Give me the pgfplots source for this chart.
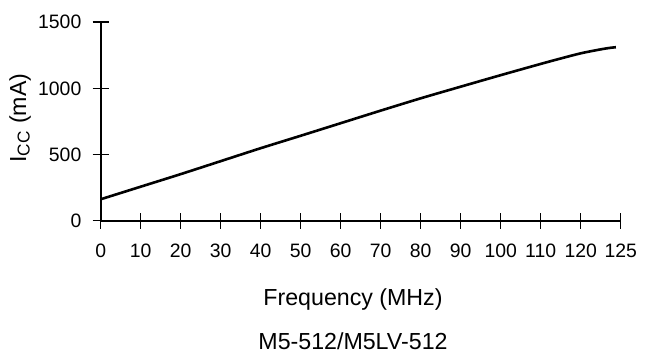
\documentclass[border=0pt]{standalone}
\usepackage{pgfplots}
\pgfplotsset{compat=1.18}
\usepackage{fontspec}
\setmainfont{Liberation Sans}
\newcommand{\fs}{\fontsize{9.7}{11.6}\selectfont}
\newcommand{\fl}{\fontsize{11.6}{13.9}\selectfont}
\begin{document}
\begin{tikzpicture}
\useasboundingbox (-50.35pt,-65.65pt) rectangle (274.65pt,110.35pt);
\begin{axis}[
  at={(0pt,0pt)}, anchor=origin,
  x=2pt, y=0.06614pt,
  scale only axis,
  xmin=0, xmax=130, ymin=0, ymax=1500,
  axis lines=left,
  axis line style={-, line width=1pt},
  tick style={line width=0.8pt, black},
  tick align=center,
  major tick length=8pt,
  xtick={0,10,20,30,40,50,60,70,80,90,100,110,120,130},
  xticklabels={0,10,20,30,40,50,60,70,80,90,100,110,120,125},
  ytick={0,500,1000,1500},
  /pgf/number format/assume math mode=true,
  /pgf/number format/1000 sep={},
  scaled y ticks=false,
  yticklabel style={font=\fs, anchor=east, inner sep=0pt},
  xticklabel style={font=\fs, anchor=north, inner sep=0pt},
  yticklabel shift=5.5pt,
  xticklabel shift=7.6pt,
  clip=false,
]
\addplot[black, line width=1.3pt, smooth, tension=0.5] coordinates {
(0,162) (10,257) (20,352) (30,450) (40,548) (50,642) (60,737) (70,832)
(80,925) (90,1013) (100,1100) (110,1185) (115,1226) (120,1265)
(125,1295) (127.5,1307) (128.8,1311)
};
\end{axis}
\node[anchor=base, font=\fl, inner sep=0pt] at (126.15pt,-42.65pt) {Frequency (MHz)};
\node[anchor=base, font=\fl, inner sep=0pt] at (126.15pt,-64.4pt) {M5-512/M5LV-512};
\node[rotate=90, font=\fl, inner sep=0pt] at (-40.35pt,51.35pt) {I\textsubscript{\fontsize{8.6}{10}\selectfont CC} (mA)};
\end{tikzpicture}
\end{document}
